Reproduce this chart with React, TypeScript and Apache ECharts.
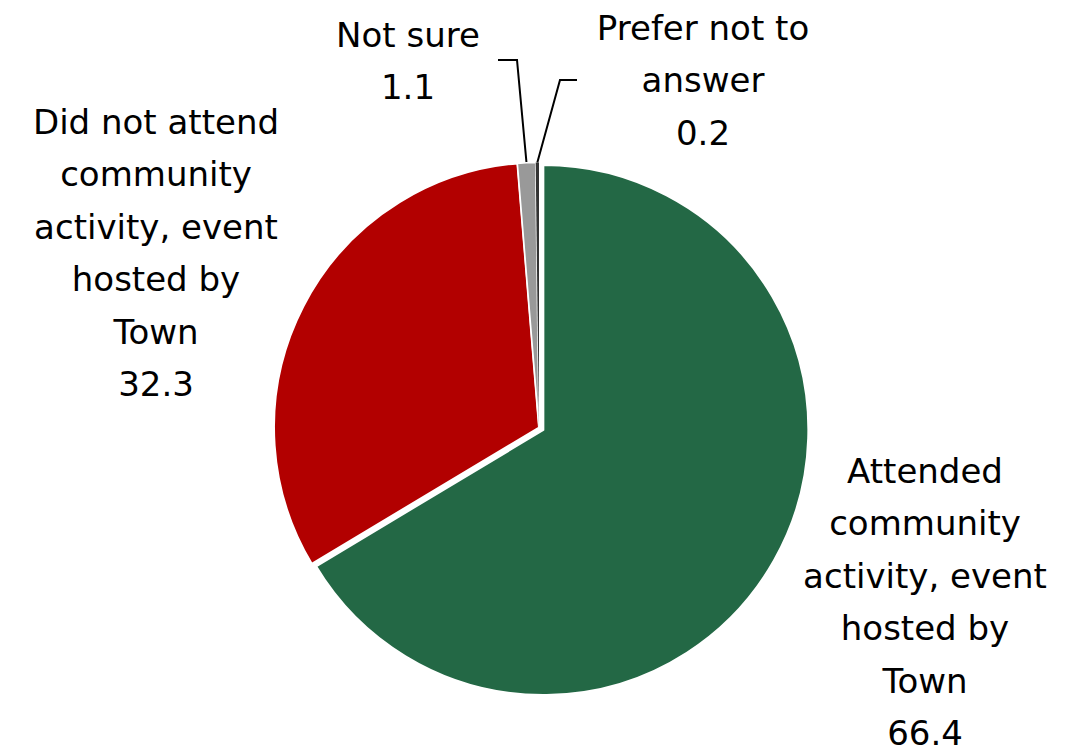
import React, { useEffect, useRef } from "react";
import * as echarts from "echarts";

const categories = [
  "Attended\ncommunity\nactivity, event\nhosted by\nTown",
  "Did not attend\ncommunity\nactivity, event\nhosted by\nTown",
  "Not sure",
  "Prefer not to\nanswer",
];
const values = [66.4, 32.3, 1.1, 0.2];
const colors = ["#236845", "#B20000", "#999999", "#333333"];
const explodedIndex = 0;

// label placement (layout only)
const labelCenters: [number, number][] = [
  [925, 602],
  [156, 253],
  [408, 61],
  [703, 80],
];
const labelElbows: ([number, number][] | null)[] = [
  null,
  null,
  [
    [517, 60],
    [498, 60],
  ],
  [
    [560, 80],
    [577, 80],
  ],
];

const CX = 539;
const CY = 427.5;
const R = 265;
const EXPLODE = 5;

export default function App() {
  const ref = useRef<HTMLDivElement>(null);
  useEffect(() => {
    if (!ref.current) return;
    const chart = echarts.init(ref.current, null, { renderer: "svg" });

    // direction of exploded slice bisector
    const total = values.reduce((a, b) => a + b, 0);
    let before = 0;
    for (let i = 0; i < explodedIndex; i++) before += values[i];
    const midFrac = (before + values[explodedIndex] / 2) / total;
    const ang = midFrac * 2 * Math.PI; // clockwise from top
    const dx = Math.sin(ang) * EXPLODE;
    const dy = -Math.cos(ang) * EXPLODE;

    const makeData = (visible: (i: number) => boolean) =>
      categories.map((name, i) => {
        const vis = visible(i);
        return {
          name,
          value: values[i],
          itemStyle: vis
            ? {
                color: colors[i],
                borderColor: "#ffffff",
                borderWidth: i === 3 ? 0 : i === 2 ? 1.5 : 2,
              }
            : { color: "rgba(0,0,0,0)", borderWidth: 0 },
          label: { show: vis },
          labelLine: { show: vis && labelElbows[i] !== null },
        };
      });

    const baseSeries = {
      type: "pie",
      radius: [0, R],
      startAngle: 90,
      clockwise: true,
      avoidLabelOverlap: false,
      silent: true,
      emphasis: { disabled: true },
      label: {
        show: true,
        position: "outside",
        formatter: "{b}\n{c}",
        fontFamily: "DejaVu Sans",
        fontSize: 34,
        lineHeight: 52.5,
        color: "#000000",
        align: "center",
      },
      labelLine: {
        show: true,
        lineStyle: { color: "#000000", width: 2 },
      },
      labelLayout: (params: any) => {
        const i = params.dataIndex;
        const [x, y] = labelCenters[i];
        const out: any = { x, y, align: "center", verticalAlign: "middle" };
        const elbow = labelElbows[i];
        if (elbow && params.labelLinePoints && params.labelLinePoints[0]) {
          out.labelLinePoints = [params.labelLinePoints[0], ...elbow];
        }
        return out;
      },
    };

    chart.setOption({
      animation: false,
      series: [
        {
          ...baseSeries,
          center: [CX, CY],
          data: makeData((i) => i !== explodedIndex),
        },
        {
          ...baseSeries,
          center: [CX + dx, CY + dy],
          data: makeData((i) => i === explodedIndex),
        },
      ],
    });
    return () => chart.dispose();
  }, []);
  return (
    <div
      ref={ref}
      style={{ position: "fixed", left: 0, top: 0, width: 1067, height: 751, background: "#ffffff" }}
    />
  );
}
